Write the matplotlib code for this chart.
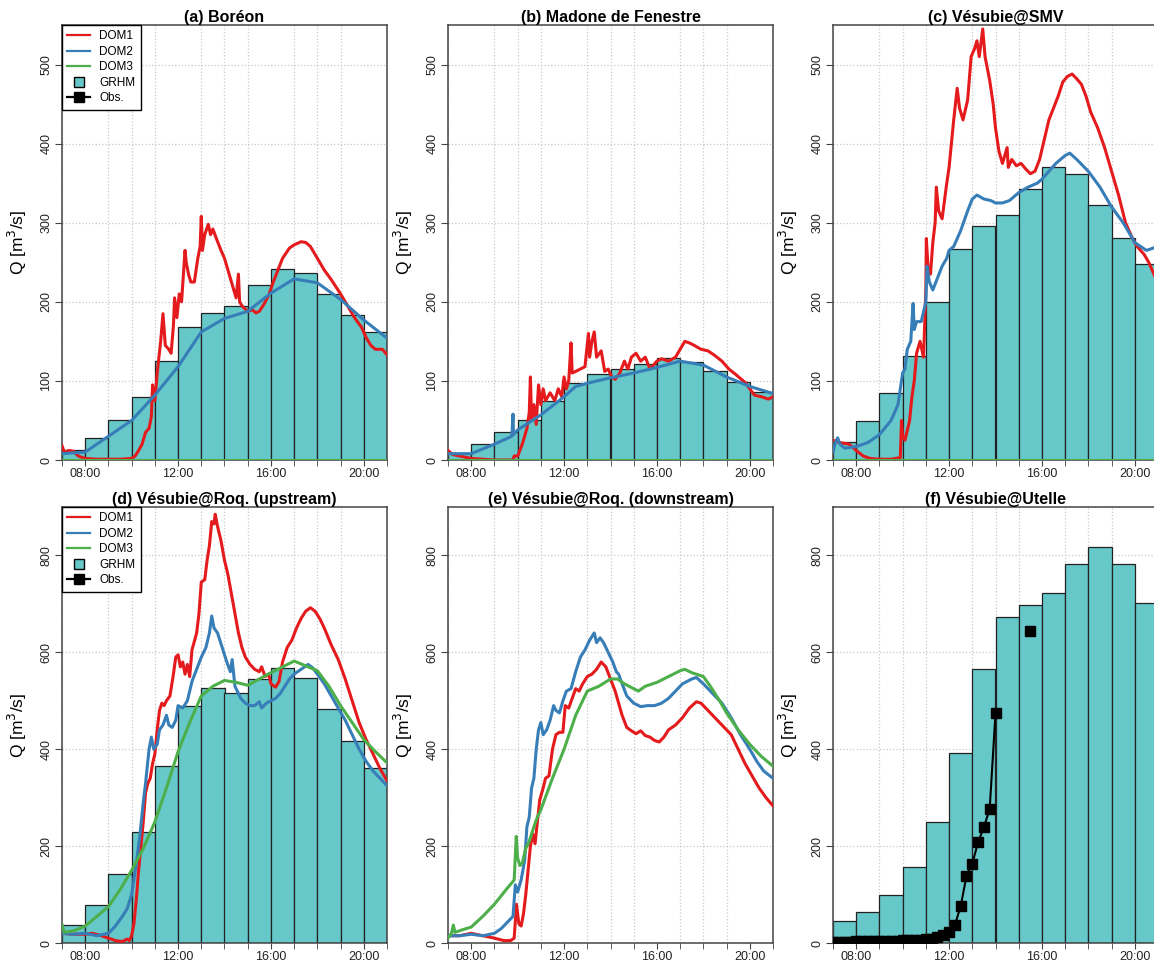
import numpy as np
import matplotlib
matplotlib.use("Agg")
import matplotlib.pyplot as plt
from matplotlib.lines import Line2D

plt.rcParams["font.family"] = ["Liberation Sans", "DejaVu Sans"]

# ---- data (hours of the day, discharge in m3/s) ----
bar_hours = [7, 8, 9, 10, 11, 12, 13, 14, 15, 16, 17, 18, 19, 20]

a_grhm = [13, 28, 50, 80, 125, 168, 186, 195, 221, 241, 236, 210, 183, 162]
b_grhm = [9, 20, 35, 51, 75, 97, 109, 115, 122, 129, 124, 112, 98, 86]
c_grhm = [23, 49, 85, 132, 200, 267, 296, 310, 343, 370, 361, 322, 281, 248]
d_grhm = [37, 79, 142, 230, 366, 490, 526, 517, 545, 568, 548, 484, 416, 361]
f_grhm = [45, 64, 99, 157, 249, 393, 566, 673, 697, 722, 782, 817, 783, 701]

# (a) Boréon
a_dom1_t = [7.0, 7.1, 7.3, 7.5, 7.7, 8.0, 8.5, 9.0, 9.5, 10.0, 10.15, 10.3, 10.45, 10.6, 10.75, 10.85,
            10.9, 11.0, 11.1, 11.25, 11.35, 11.45, 11.6, 11.7, 11.8, 11.85, 11.95, 12.05, 12.15,
            12.3, 12.35, 12.45, 12.55, 12.7, 12.85, 12.95, 13.0, 13.05, 13.15, 13.3, 13.4, 13.5,
            13.65, 13.85, 14.0, 14.2, 14.4, 14.5, 14.6, 14.65, 14.75, 15.0, 15.2, 15.35, 15.5,
            15.7, 15.9, 16.1, 16.3, 16.5, 16.8, 17.0, 17.3, 17.5, 17.7, 18.0, 18.3, 18.6, 19.0,
            19.3, 19.6, 19.9, 20.1, 20.3, 20.5, 20.8, 21.0]
a_dom1_q = [18, 10, 12, 11, 5, 2, 1, 1, 1, 2, 5, 12, 20, 35, 40, 55,
            95, 75, 110, 150, 185, 145, 140, 135, 170, 205, 180, 210, 200,
            265, 250, 235, 225, 225, 255, 270, 308, 265, 285, 298, 285, 292,
            280, 265, 255, 235, 215, 205, 235, 200, 195, 188, 190, 186, 188,
            197, 208, 225, 240, 255, 268, 272, 276, 275, 270, 255, 240, 228, 210,
            195, 180, 168, 155, 145, 140, 140, 133]
a_dom2_t = [7.0, 8.0, 9.0, 10.0, 11.0, 12.0, 13.0, 14.0, 15.0, 16.0, 17.0, 18.0, 19.0, 20.0, 21.0]
a_dom2_q = [8, 10, 30, 50, 82, 118, 162, 179, 188, 211, 229, 224, 203, 177, 154]
a_dom3_t = [7.0, 21.0]
a_dom3_q = [0, 0]

# (b) Madone de Fenestre
b_dom1_t = [7.0, 7.2, 7.5, 8.0, 8.5, 9.0, 9.8, 9.85, 10.0, 10.2, 10.4, 10.5, 10.55, 10.6, 10.7,
            10.8, 10.9, 11.0, 11.1, 11.2, 11.4, 11.6, 11.75, 11.9, 12.0, 12.1, 12.2, 12.3, 12.35,
            12.5, 12.7, 12.9, 13.05, 13.1, 13.2, 13.3, 13.4, 13.6, 13.75, 13.9, 14.05, 14.2, 14.4,
            14.6, 14.75, 14.9, 15.1, 15.3, 15.5, 15.7, 16.0, 16.2, 16.5, 16.8, 17.0, 17.2, 17.4,
            17.6, 17.9, 18.2, 18.5, 18.8, 19.1, 19.4, 19.8, 20.0, 20.2, 20.5, 20.8, 21.0]
b_dom1_q = [12, 7, 5, 2, 1, 0, 0, 5, 5, 20, 40, 60, 105, 50, 70,
            45, 95, 70, 90, 75, 85, 75, 90, 80, 105, 90, 100, 148, 110,
            112, 115, 118, 160, 130, 150, 162, 130, 138, 112, 115, 105, 102, 110,
            125, 115, 130, 135, 125, 130, 115, 125, 128, 125, 130, 140, 150, 148,
            145, 140, 138, 132, 125, 115, 108, 98, 90, 82, 80, 77, 80]
b_dom2_t = [7.0, 8.0, 9.0, 9.75, 9.8, 9.82, 10.0, 11.0, 12.0, 12.5, 13.0, 14.0, 15.0, 16.0,
            17.0, 18.0, 19.0, 20.0, 21.0]
b_dom2_q = [8, 8, 20, 30, 58, 32, 38, 57, 80, 93, 97, 104, 110, 117, 125, 120, 105, 93, 84]
b_dom3_t = [7.0, 21.0]
b_dom3_q = [0, 0]

# (c) Vésubie@SMV
c_dom1_t = [7.0, 7.3, 7.7, 8.0, 8.3, 8.6, 9.0, 9.5, 9.9, 9.95, 10.0, 10.1, 10.3, 10.4, 10.5,
            10.6, 10.75, 10.9, 11.0, 11.02, 11.1, 11.2, 11.3, 11.4, 11.45, 11.55, 11.7, 11.9,
            12.0, 12.1, 12.2, 12.35, 12.45, 12.6, 12.8, 12.95, 13.1, 13.2, 13.3, 13.45, 13.55,
            13.75, 13.9, 14.0, 14.15, 14.3, 14.5, 14.55, 14.7, 14.9, 15.1, 15.3, 15.5, 15.7,
            15.9, 16.1, 16.3, 16.5, 16.7, 16.9, 17.1, 17.3, 17.5, 17.7, 17.9, 18.1, 18.4, 18.7,
            19.0, 19.3, 19.6, 19.9, 20.1, 20.4, 20.6, 20.9, 21.0]
c_dom1_q = [25, 22, 20, 12, 5, 2, 1, 1, 3, 50, 30, 25, 50, 80, 100,
            135, 150, 130, 215, 280, 240, 235, 275, 300, 345, 315, 305, 350,
            370, 400, 430, 470, 445, 430, 455, 510, 520, 530, 510, 545, 510,
            480, 450, 420, 390, 375, 395, 370, 380, 372, 375, 368, 362, 365,
            380, 405, 430, 445, 460, 478, 485, 488, 482, 475, 460, 440, 420, 395,
            365, 335, 300, 280, 270, 260, 250, 230, 225]
c_dom2_t = [7.0, 7.1, 7.2, 7.3, 7.5, 8.0, 8.5, 9.0, 9.5, 9.8, 10.0, 10.1, 10.2, 10.35, 10.45,
            10.5, 10.6, 10.8, 11.0, 11.05, 11.15, 11.3, 11.5, 11.7, 11.9, 12.0, 12.2, 12.5, 12.8,
            13.0, 13.2, 13.5, 13.8, 14.0, 14.3, 14.6, 15.0, 15.4, 15.8, 16.0, 16.3, 16.6, 17.0,
            17.2, 17.5, 18.0, 18.5, 19.0, 19.5, 20.0, 20.5, 21.0]
c_dom2_q = [10, 22, 28, 20, 15, 17, 22, 32, 50, 70, 110, 115, 140, 150, 198,
            165, 175, 175, 200, 245, 225, 215, 230, 245, 255, 265, 270, 290, 315,
            330, 335, 330, 328, 325, 325, 328, 338, 345, 350, 355, 365, 375, 385,
            388, 380, 365, 345, 320, 300, 275, 265, 270]
c_dom3_t = [7.0, 21.0]
c_dom3_q = [0, 0]

# (d) Vésubie@Roq. (upstream)
d_dom1_t = [7.0, 7.5, 8.0, 8.3, 8.7, 9.0, 9.3, 9.6, 9.8, 9.9, 10.0, 10.1, 10.2, 10.3, 10.4,
            10.5, 10.6, 10.7, 10.8, 10.9, 11.0, 11.1, 11.2, 11.3, 11.4, 11.5, 11.65, 11.8, 11.9,
            12.0, 12.1, 12.2, 12.3, 12.4, 12.5, 12.6, 12.8, 12.9, 13.0, 13.15, 13.25, 13.35,
            13.45, 13.55, 13.6, 13.7, 13.85, 14.0, 14.15, 14.3, 14.45, 14.6, 14.75, 14.9, 15.1,
            15.3, 15.5, 15.6, 15.75, 15.9, 16.0, 16.2, 16.35, 16.5, 16.7, 16.9, 17.1, 17.3,
            17.5, 17.7, 17.9, 18.1, 18.3, 18.6, 18.9, 19.2, 19.5, 19.8, 20.1, 20.4, 20.7, 21.0]
d_dom1_q = [20, 18, 18, 20, 15, 10, 5, 3, 8, 5, 15, 40, 90, 150, 200,
            250, 310, 330, 340, 370, 390, 440, 480, 495, 490, 500, 510, 555, 590,
            595, 570, 580, 555, 575, 550, 605, 640, 680, 745, 750, 790, 820,
            870, 865, 885, 860, 830, 790, 760, 720, 680, 640, 610, 590, 575,
            565, 560, 570, 550, 555, 535, 528, 540, 580, 610, 625, 650, 670,
            685, 692, 685, 670, 650, 615, 585, 545, 500, 455, 420, 390, 360, 335]
d_dom2_t = [7.0, 7.5, 8.0, 8.5, 9.0, 9.3, 9.6, 9.8, 10.0, 10.2, 10.35, 10.5, 10.6, 10.75, 10.85,
            10.95, 11.1, 11.2, 11.35, 11.5, 11.6, 11.75, 11.9, 12.0, 12.2, 12.4, 12.6, 12.8, 13.0,
            13.2, 13.35, 13.45, 13.55, 13.7, 13.9, 14.1, 14.25, 14.33, 14.45, 14.7, 14.9, 15.1,
            15.3, 15.5, 15.6, 15.8, 16.0, 16.2, 16.4, 16.6, 16.8, 17.0, 17.3, 17.6, 17.8, 18.0,
            18.3, 18.6, 18.9, 19.2, 19.5, 19.8, 20.1, 20.4, 20.7, 21.0]
d_dom2_q = [20, 18, 20, 15, 20, 35, 55, 70, 100, 165, 220, 290, 330, 400, 425,
            400, 410, 440, 450, 470, 450, 445, 460, 490, 485, 500, 540, 565, 590,
            610, 640, 675, 650, 640, 610, 580, 560, 585, 530, 505, 495, 490,
            490, 498, 485, 495, 500, 505, 515, 530, 545, 555, 565, 575, 568, 555,
            535, 510, 485, 460, 430, 400, 375, 355, 340, 325]
d_dom3_t = [7.0, 7.1, 7.5, 8.0, 8.5, 9.0, 9.5, 10.0, 10.5, 11.0, 11.5, 12.0, 12.5, 13.0, 13.5,
            14.0, 14.5, 15.0, 15.5, 16.0, 16.5, 17.0, 17.5, 18.0, 18.5, 19.0, 19.5, 20.0, 20.5, 21.0]
d_dom3_q = [38, 22, 25, 35, 55, 75, 110, 150, 195, 250, 320, 395, 455, 510, 530,
            542, 538, 532, 545, 558, 570, 582, 572, 562, 530, 490, 455, 420, 395, 372]

# (e) Vésubie@Roq. (downstream)
e_dom1_t = [7.0, 7.5, 8.0, 8.5, 9.0, 9.4, 9.7, 9.85, 9.95, 10.05, 10.15, 10.25, 10.35, 10.45,
            10.55, 10.65, 10.75, 10.85, 10.95, 11.1, 11.2, 11.35, 11.5, 11.65, 11.8, 11.95,
            12.05, 12.2, 12.35, 12.5, 12.65, 12.8, 13.0, 13.2, 13.4, 13.6, 13.8, 14.0, 14.2,
            14.35, 14.5, 14.7, 14.9, 15.1, 15.3, 15.5, 15.7, 15.9, 16.1, 16.3, 16.5, 16.8,
            17.1, 17.4, 17.7, 17.9, 18.2, 18.5, 18.8, 19.2, 19.5, 19.8, 20.1, 20.4, 20.7, 21.0]
e_dom1_q = [15, 15, 20, 15, 10, 5, 5, 10, 80, 40, 35, 60, 100, 150,
            200, 225, 205, 250, 295, 320, 340, 345, 400, 430, 435, 435,
            490, 485, 505, 525, 520, 535, 550, 555, 565, 580, 570, 545, 520,
            495, 470, 445, 438, 432, 438, 428, 425, 418, 415, 425, 440, 450,
            465, 485, 498, 495, 480, 465, 450, 430, 400, 370, 345, 320, 300, 283]
e_dom2_t = [7.0, 7.5, 8.0, 8.5, 9.0, 9.3, 9.6, 9.8, 9.9, 10.0, 10.15, 10.3, 10.4, 10.5, 10.6,
            10.7, 10.8, 10.9, 11.0, 11.1, 11.25, 11.4, 11.55, 11.65, 11.8, 11.95, 12.1, 12.3,
            12.5, 12.7, 12.9, 13.1, 13.3, 13.4, 13.55, 13.7, 13.9, 14.1, 14.25, 14.35, 14.5,
            14.7, 15.0, 15.3, 15.6, 15.9, 16.2, 16.5, 16.8, 17.1, 17.5, 17.7, 18.0, 18.4, 18.8,
            19.2, 19.6, 20.0, 20.3, 20.6, 21.0]
e_dom2_q = [15, 15, 18, 15, 20, 30, 45, 55, 120, 105, 130, 170, 240, 260, 320,
            340, 400, 440, 455, 430, 440, 460, 490, 480, 475, 500, 520, 525,
            560, 590, 605, 625, 640, 620, 630, 620, 600, 580, 560, 555, 535,
            510, 495, 488, 490, 490, 495, 505, 520, 535, 545, 548, 535, 515, 495,
            465, 430, 400, 375, 355, 340]
e_dom3_t = [7.0, 7.15, 7.23, 7.3, 7.6, 8.0, 8.5, 9.0, 9.5, 9.85, 9.94, 10.0, 10.1, 10.2, 10.35,
            10.5, 10.7, 10.85, 11.0, 11.5, 12.0, 12.5, 13.0, 13.5, 14.0, 14.3, 14.6, 15.0, 15.2,
            15.5, 16.0, 16.5, 17.0, 17.2, 17.5, 18.0, 18.3, 18.7, 19.0, 19.5, 20.0, 20.5, 21.0]
e_dom3_q = [10, 20, 37, 22, 27, 33, 55, 80, 110, 130, 220, 175, 160, 165, 195,
            210, 240, 260, 275, 340, 400, 470, 520, 530, 545, 545, 535, 525, 520,
            530, 538, 550, 562, 565, 558, 550, 530, 500, 475, 440, 410, 385, 365]

# (f) Vésubie@Utelle, observations every 15 min (nan = missing)
f_obs_t = [7.0, 7.25, 7.5, 7.75, 8.0, 8.25, 8.5, 8.75, 9.0, 9.25, 9.5, 9.75, 10.0, 10.25,
           10.5, 10.75, 11.0, 11.25, 11.5, 11.75, 12.0, 12.25, 12.5, 12.75, 13.0, 13.25, 13.5,
           13.75, 14.0, 14.25, 14.5, 14.75, 15.0, 15.25, 15.5]
f_obs_q = [3, 3, 3, 3, 4, 4, 4, 4, 4, 5, 5, 5, 6, 6,
           6, 7, 8, 9, 12, 17, 22, 37, 76, 138, 164, 208, 239,
           277, 474, np.nan, np.nan, np.nan, np.nan, np.nan, 645]

titles = ["(a) Boréon", "(b) Madone de Fenestre", "(c) Vésubie@SMV",
          "(d) Vésubie@Roq. (upstream)", "(e) Vésubie@Roq. (downstream)", "(f) Vésubie@Utelle"]
major_hours = [8, 12, 16, 20]
major_labels = ["08:00", "12:00", "16:00", "20:00"]

# ---- style ----
RED, BLUE, GREEN = "#E41A1C", "#377EB8", "#4DAF4A"
BARC = "#66C8C8"
FRAME = "#444444"

panels = [
    dict(grhm=a_grhm, dom=[(a_dom1_t, a_dom1_q), (a_dom2_t, a_dom2_q), (a_dom3_t, a_dom3_q)],
         ymax=550, step=100, legend=True),
    dict(grhm=b_grhm, dom=[(b_dom1_t, b_dom1_q), (b_dom2_t, b_dom2_q), (b_dom3_t, b_dom3_q)],
         ymax=550, step=100),
    dict(grhm=c_grhm, dom=[(c_dom1_t, c_dom1_q), (c_dom2_t, c_dom2_q), (c_dom3_t, c_dom3_q)],
         ymax=550, step=100),
    dict(grhm=d_grhm, dom=[(d_dom1_t, d_dom1_q), (d_dom2_t, d_dom2_q), (d_dom3_t, d_dom3_q)],
         ymax=900, step=200, legend=True),
    dict(grhm=None, dom=[(e_dom1_t, e_dom1_q), (e_dom2_t, e_dom2_q), (e_dom3_t, e_dom3_q)],
         ymax=900, step=200),
    dict(grhm=f_grhm, dom=[], obs=(f_obs_t, f_obs_q), ymax=900, step=200),
]

W, H = 1154, 963
fig = plt.figure(figsize=(W / 100, H / 100), dpi=100)
lefts = [62, 448, 833]
rows = [(25, 460), (507, 943)]

for k, p in enumerate(panels):
    r, c = divmod(k, 3)
    top, bot = rows[r]
    ax = fig.add_axes([lefts[c] / W, 1 - bot / H, 325 / W, (bot - top) / H])

    if p["grhm"] is not None:
        ax.bar(bar_hours, p["grhm"], width=1, align="edge", color=BARC,
               edgecolor="#222222", linewidth=0.9, zorder=2)
    for (t, q), col in zip(p["dom"], [RED, BLUE, GREEN]):
        ax.plot(t, q, color=col, lw=2.2, zorder=3, solid_joinstyle="round")
    if "obs" in p:
        ax.plot(p["obs"][0], p["obs"][1], color="black", lw=1.5, marker="s",
                markersize=6.5, zorder=4)

    ax.set_xlim(7, 21)
    ax.set_ylim(0, p["ymax"])
    ax.set_xticks(major_hours)
    ax.set_xticklabels(major_labels)
    ax.set_xticks(range(7, 22), minor=True)
    ax.set_yticks(np.arange(0, p["ymax"], p["step"]))
    ax.tick_params(axis="both", which="both", direction="out", color=FRAME,
                   labelsize=9, labelcolor="#222222")
    ax.tick_params(axis="x", which="major", length=4, pad=1.5)
    ax.tick_params(axis="x", which="minor", length=4)
    ax.tick_params(axis="y", length=5, pad=2)
    for lab in ax.get_yticklabels():
        lab.set_rotation(90)
        lab.set_va("center")

    ax.grid(True, axis="x", which="minor", color="#c8c8c8", ls=":", lw=0.9)
    ax.grid(True, axis="y", which="major", color="#c8c8c8", ls=":", lw=0.9)
    ax.set_axisbelow(True)
    for s in ax.spines.values():
        s.set_color(FRAME)
        s.set_linewidth(1.1)

    ax.set_ylabel("Q [m$^3$/s]", fontsize=12.5, labelpad=8)
    ax.set_title(titles[k], fontsize=11.5, fontweight="bold", pad=1)

    if p.get("legend"):
        handles = [
            Line2D([], [], color=RED, lw=1.6),
            Line2D([], [], color=BLUE, lw=1.6),
            Line2D([], [], color=GREEN, lw=1.6),
            Line2D([], [], ls="none", marker="s", markersize=7.5, markerfacecolor=BARC,
                   markeredgecolor="black"),
            Line2D([], [], color="black", lw=1.6, marker="s", markersize=6.5),
        ]
        leg = ax.legend(handles, ["DOM1", "DOM2", "DOM3", "GRHM", "Obs."], loc="upper left",
                        borderaxespad=0, fontsize=8.5, frameon=True, fancybox=False,
                        edgecolor="black", framealpha=1, handlelength=1.9,
                        labelspacing=0.3, borderpad=0.45, handletextpad=0.8)
        leg.get_frame().set_linewidth(1.0)
        leg.set_zorder(10)

fig.savefig("out.png", dpi=100)
